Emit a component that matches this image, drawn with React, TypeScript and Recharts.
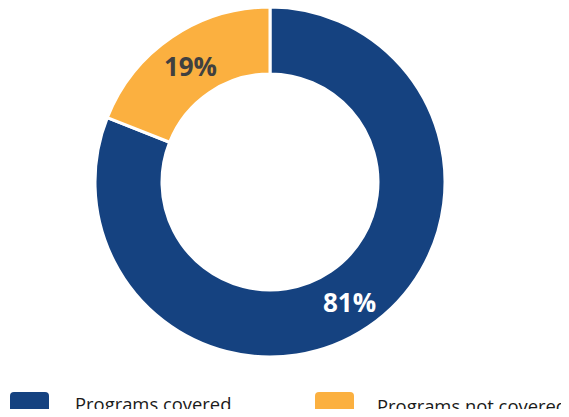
import React from 'react';
import { PieChart, Pie, Cell, Legend } from 'recharts';

const categories = ['Programs covered', 'Programs not covered'];
const shares = [81, 19];
const COLORS = ['#154280', '#FBB040'];
const LABEL_COLORS = ['#ffffff', '#404040'];

const data = categories.map((name, i) => ({ name, value: shares[i] }));

const RADIAN = Math.PI / 180;

const renderLabel = (props: any) => {
  const { cx, cy, midAngle, innerRadius, outerRadius, index, value } = props;
  const r = (innerRadius + outerRadius) / 2;
  const x = cx + r * Math.cos(-midAngle * RADIAN);
  const y = cy + r * Math.sin(-midAngle * RADIAN);
  return (
    <text
      x={x}
      y={y + (index === 0 ? 3 : 1)}
      fill={LABEL_COLORS[index]}
      textAnchor="middle"
      dominantBaseline="central"
      fontFamily="'Open Sans', sans-serif"
      fontWeight={700}
      fontSize={26}
    >
      {value}%
    </text>
  );
};

// legend item positions (left of swatch, left of text, text top)
const legendPos = [
  { swatch: 10, text: 75, textTop: 2 },
  { swatch: 315, text: 377, textTop: 4 },
];

const renderLegend = () => (
  <div style={{ position: 'relative', width: 569, height: 25 }}>
    {data.map((d, i) => (
      <React.Fragment key={d.name}>
        <div
          style={{
            position: 'absolute',
            left: legendPos[i].swatch,
            top: 0,
            width: 39,
            height: 22,
            borderRadius: 4,
            background: COLORS[i],
          }}
        />
        <div
          style={{
            position: 'absolute',
            left: legendPos[i].text,
            top: legendPos[i].textTop,
            fontFamily: "'Open Sans', sans-serif",
            fontSize: 18.4,
            lineHeight: '20px',
            color: '#1a1a1a',
            whiteSpace: 'nowrap',
          }}
        >
          {d.name}
        </div>
      </React.Fragment>
    ))}
  </div>
);

export default function App() {
  return (
    <div style={{ margin: -8, width: 569, height: 417, background: '#fff', overflow: 'hidden' }}>
      <PieChart width={569} height={417} margin={{ top: 0, right: 0, bottom: 0, left: 0 }}>
        <Pie
          data={data}
          dataKey="value"
          cx={270}
          cy={182}
          innerRadius={108}
          outerRadius={175}
          startAngle={90}
          endAngle={-270}
          stroke="#ffffff"
          strokeWidth={3}
          label={renderLabel}
          labelLine={false}
          isAnimationActive={false}
        >
          {data.map((d, i) => (
            <Cell key={d.name} fill={COLORS[i]} />
          ))}
        </Pie>
        <Legend
          content={renderLegend}
          wrapperStyle={{ position: 'absolute', left: 0, top: 392, width: 569 }}
        />
      </PieChart>
    </div>
  );
}
